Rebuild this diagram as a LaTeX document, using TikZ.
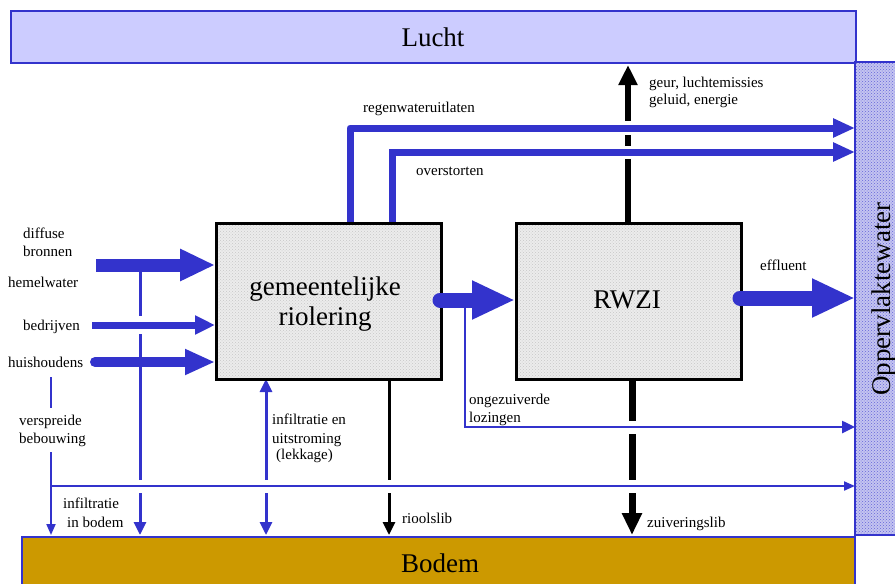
\documentclass[tikz,border=0pt]{standalone}
\usepackage{fontspec}
\setmainfont{Liberation Serif}
\usetikzlibrary{arrows.meta,patterns}
\definecolor{myblue}{RGB}{51,51,204}
\definecolor{luchtfill}{RGB}{204,204,255}
\definecolor{waterfill}{RGB}{196,196,240}
\definecolor{bodemfill}{RGB}{204,153,0}
\definecolor{boxfill}{RGB}{236,236,236}
\begin{document}
\begin{tikzpicture}[x=1pt,y=-1pt,
  lbl/.style={font=\fontsize{15}{18}\selectfont, inner sep=0pt, anchor=base west},
  big/.style={font=\fontsize{27}{32}\selectfont, inner sep=0pt},
  region/.style={draw=myblue, line width=1.5pt},
  procbox/.style={draw=black, line width=2.7pt, preaction={fill=boxfill}, pattern=crosshatch dots, pattern color=black!22, inner sep=0pt, minimum width=225pt, minimum height=156pt, anchor=north west},
  gapw/.style={preaction={draw=white, line width=#1, -}},
  smallhead/.style={-{Triangle[length=13pt,width=12pt]}},
]
\useasboundingbox (0,0) rectangle (895,584);

% ---- coordinates
\coordinate (hwTop) at (140,265);
\coordinate (hwBot) at (140,535);
\coordinate (infTop) at (266,379);
\coordinate (infBot) at (266,535);
\coordinate (rsTop) at (389,379);
\coordinate (rsBot) at (389,535);
\coordinate (zlTop) at (632,379);
\coordinate (zlBot) at (632,535);
\coordinate (geBot) at (628,222);
\coordinate (geTop) at (628,65);
\coordinate (rgStart) at (350,222);
\coordinate (rgEnd) at (855,128);
\coordinate (ovStart) at (392,222);
\coordinate (ovEnd) at (855,152);
\coordinate (onStart) at (465,300);
\coordinate (onEnd) at (855,427);
\coordinate (bhStart) at (51,486);
\coordinate (bhEnd) at (855,486);
\coordinate (vbA) at (51,377);
\coordinate (vbB) at (51,408);
\coordinate (vbC) at (51,452);
\coordinate (vbD) at (51,535);
\coordinate (bedA) at (92,325);
\coordinate (bedB) at (215,325);
\coordinate (difA) at (96,265);
\coordinate (difB) at (215,265);
\coordinate (huA) at (95,362);
\coordinate (huB) at (215,362);
\coordinate (rrA) at (440,300);
\coordinate (rrB) at (515,300);
\coordinate (efA) at (740,298);
\coordinate (efB) at (855,298);

% ---- vertical flows (drawn first, later lines cut gaps in them)
\draw[myblue, line width=3pt, smallhead] (hwTop) -- (hwBot);
\draw[myblue, line width=3pt, {Triangle[length=13pt,width=12pt]}-{Triangle[length=13pt,width=12pt]}] (infTop) -- (infBot);
\draw[black, line width=3pt, smallhead] (rsTop) -- (rsBot);
\draw[black, line width=7pt, -{Triangle[length=22pt,width=19pt]}] (zlTop) -- (zlBot);
\draw[black, line width=6pt, -{Triangle[length=20pt,width=18pt]}] (geBot) -- (geTop);

% ---- horizontal flows with white gaps
\draw[myblue, line width=7pt, line join=round, gapw=14pt, -{Triangle[length=22pt,width=18pt]}] (rgStart) |- (rgEnd);
\draw[myblue, line width=7pt, gapw=13pt, -{Triangle[length=22pt,width=18pt]}] (ovStart) |- (ovEnd);
\draw[myblue, line width=2.5pt, gapw=13pt, smallhead] (onStart) |- (onEnd);
\draw[myblue, line width=2pt, gapw=13pt, -{Triangle[length=11pt,width=9pt]}] (bhStart) -- (bhEnd);
\draw[myblue, line width=2pt] (vbA) -- (vbB);
\draw[myblue, line width=2pt, -{Triangle[length=11pt,width=9pt]}] (vbC) -- (vbD);
\draw[myblue, line width=7pt, gapw=18pt, -{Triangle[length=20pt,width=18pt]}] (bedA) -- (bedB);

% ---- process boxes
\node[procbox] (riol) at (215,222) {};
\node[procbox] (rwzi) at (515,222) {};

% ---- thick arrows
\draw[myblue, line width=13pt, -{Triangle[length=35pt,width=30pt]}] (difA) -- (difB);
\draw[myblue, line width=10pt, line cap=round, -{Triangle[length=30pt,width=24pt]}] (huA) -- (huB);
\draw[myblue, line width=15pt, line cap=round, -{Triangle[length=43pt,width=36pt]}] (rrA) -- (rrB);
\draw[myblue, line width=15pt, line cap=round, -{Triangle[length=43pt,width=36pt]}] (efA) -- (efB);

% ---- regions
\node[region, fill=luchtfill, anchor=north west, inner sep=0pt, minimum width=845pt, minimum height=52pt] (lucht) at (10,10) {};
\path[region, preaction={fill=waterfill}, pattern=crosshatch dots, pattern color=myblue!75] (855,62) rectangle (897,535);
\path[region, fill=bodemfill] (22,537) rectangle (855,590);

% ---- big texts
\node[big, anchor=base] (tLucht) at (433,46) {Lucht};
\node[big, anchor=base] (tBodem) at (440,572) {Bodem};
\node[big, anchor=base, rotate=90] (tWater) at (890,299) {Oppervlaktewater};
\node[big, anchor=base] (tRiol1) at (325,295) {gemeentelijke};
\node[big, anchor=base] (tRiol2) at (325,325) {riolering};
\node[big, anchor=base] (tRwzi) at (627,308) {RWZI};

% ---- labels
\node[lbl] (tDiff) at (23,238) {diffuse};
\node[lbl] (tBron) at (23,256) {bronnen};
\node[lbl] (tHemel) at (8,287) {hemelwater};
\node[lbl] (tBedr) at (23,330) {bedrijven};
\node[lbl] (tHuis) at (8,367) {huishoudens};
\node[lbl] (tVersp) at (19,425) {verspreide};
\node[lbl] (tBebouw) at (19,443) {bebouwing};
\node[lbl] (tInf1) at (63,508) {infiltratie};
\node[lbl] (tInf2) at (67,527) {in bodem};
\node[lbl] (tInfA) at (272,424) {infiltratie en};
\node[lbl] (tInfB) at (272,443) {uitstroming};
\node[lbl] (tInfC) at (276,459) {(lekkage)};
\node[lbl] (tRiool) at (402,523) {rioolslib};
\node[lbl] (tZuiv) at (647,527) {zuiveringslib};
\node[lbl] (tOng1) at (469,404) {ongezuiverde};
\node[lbl] (tOng2) at (469,422) {lozingen};
\node[lbl] (tEffl) at (760,270) {effluent};
\node[lbl] (tRegen) at (363,112) {regenwateruitlaten};
\node[lbl] (tOver) at (416,175) {overstorten};
\node[lbl] (tGeur1) at (649,87) {geur, luchtemissies};
\node[lbl] (tGeur2) at (649,104) {geluid, energie};
\end{tikzpicture}
\end{document}
